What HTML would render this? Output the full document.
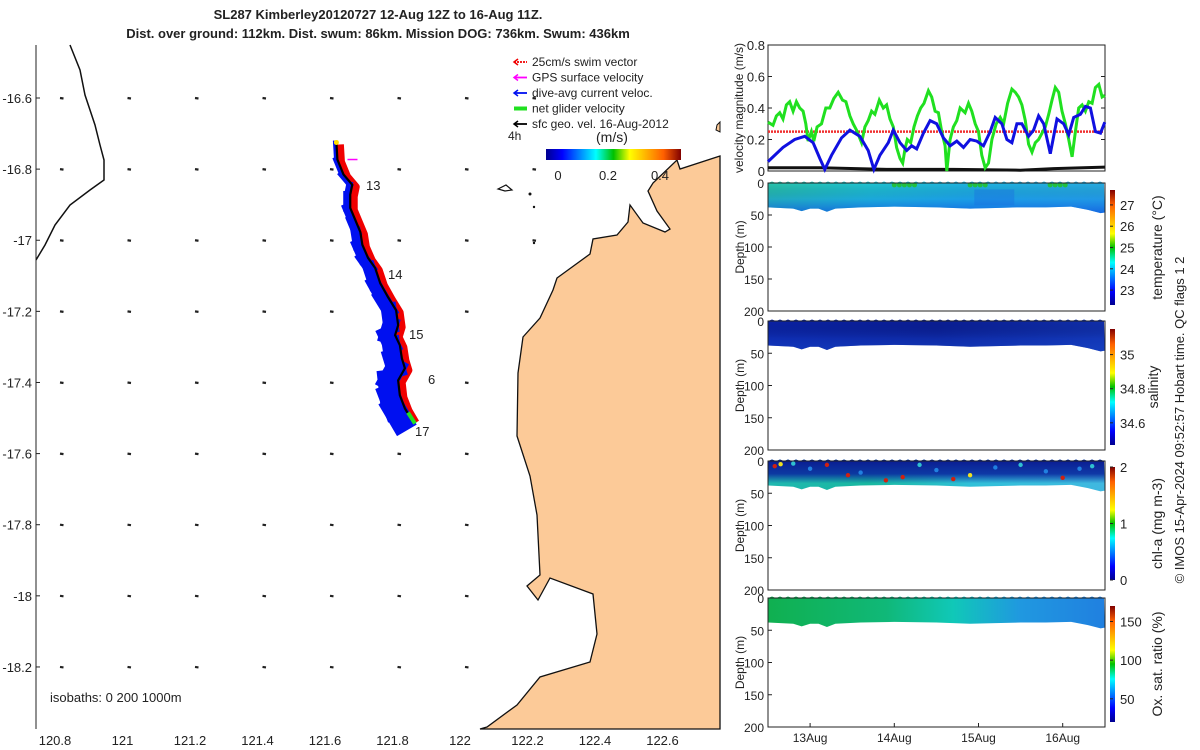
<!DOCTYPE html>
<html><head><meta charset="utf-8"><style>
html,body{margin:0;padding:0;background:#fff;}
svg{display:block;font-family:"Liberation Sans",sans-serif;}
text{fill:#222;}
</style></head><body>
<svg id="s" width="1200" height="750" viewBox="0 0 1200 750" xmlns="http://www.w3.org/2000/svg">
<defs>
 <linearGradient id="jet" x1="0" x2="1" y1="0" y2="0">
  <stop offset="0" stop-color="#00008f"/><stop offset="0.12" stop-color="#0000ff"/><stop offset="0.37" stop-color="#00ffff"/><stop offset="0.5" stop-color="#00c000"/><stop offset="0.62" stop-color="#ffff00"/><stop offset="0.87" stop-color="#ff6000"/><stop offset="1" stop-color="#800000"/>
 </linearGradient>
 <linearGradient id="jetv" x1="0" x2="0" y1="1" y2="0">
  <stop offset="0" stop-color="#00008f"/><stop offset="0.12" stop-color="#0000ff"/><stop offset="0.37" stop-color="#00ffff"/><stop offset="0.5" stop-color="#00c000"/><stop offset="0.62" stop-color="#ffff00"/><stop offset="0.87" stop-color="#ff6000"/><stop offset="1" stop-color="#800000"/>
 </linearGradient>
 <linearGradient id="gT" x1="0" x2="1"><stop offset="0" stop-color="#28c8b0"/><stop offset="0.3" stop-color="#20c8d8"/><stop offset="0.6" stop-color="#20b8e8"/><stop offset="1" stop-color="#28b0e8"/></linearGradient>
 <linearGradient id="gS" x1="0" x2="1"><stop offset="0" stop-color="#0a22a8"/><stop offset="0.5" stop-color="#0a1e98"/><stop offset="1" stop-color="#1030b0"/></linearGradient>
 <linearGradient id="gC" x1="0" x2="1"><stop offset="0" stop-color="#20b8b0"/><stop offset="0.3" stop-color="#18b8a0"/><stop offset="0.6" stop-color="#30c0d8"/><stop offset="1" stop-color="#40b8e0"/></linearGradient>
 <linearGradient id="gO" x1="0" x2="1"><stop offset="0" stop-color="#10b050"/><stop offset="0.35" stop-color="#10b878"/><stop offset="0.55" stop-color="#10c8b8"/><stop offset="0.75" stop-color="#2098e0"/><stop offset="1" stop-color="#2080e0"/></linearGradient>
 <linearGradient id="vT" x1="0" x2="0" y1="0" y2="1"><stop offset="0" stop-color="#000" stop-opacity="0"/><stop offset="0.55" stop-color="#1060e0" stop-opacity="0.3"/><stop offset="1" stop-color="#1050e0" stop-opacity="0.75"/></linearGradient>
 <linearGradient id="vS" x1="0" x2="0" y1="0" y2="1"><stop offset="0" stop-color="#000" stop-opacity="0"/><stop offset="0.6" stop-color="#1848c8" stop-opacity="0.3"/><stop offset="1" stop-color="#1848c8" stop-opacity="0.6"/></linearGradient>
 <linearGradient id="vC" x1="0" x2="0" y1="0" y2="1"><stop offset="0" stop-color="#0a1a90" stop-opacity="1"/><stop offset="0.45" stop-color="#0a2aa0" stop-opacity="0.9"/><stop offset="0.75" stop-color="#0a2aa0" stop-opacity="0"/></linearGradient>
</defs>
<g id="root"></g>
</svg>
<script>
// ---------- velocity data ----------
const greenT=[145,160,170,180,190,200,210,220,230,240,250,258,265,275,282,292,305,318,330,342,355,368,378,390,400,410,425,435,445,455,465,478,490,500,510,520,530,540,548,555,562,572,582,592,602,612,625,635,645,655,665,675,680,690,700,710,720,735,745,755,765,775,785,795,805,815,828,840,850,862,875,885,895,905,915,925,935,945,955,965,975,985,995,1005,1015,1025,1035,1045,1055,1065,1075,1085,1095,1105,1115,1125,1135,1145,1153];
const greenV=[.31,.29,.35,.37,.33,.42,.44,.38,.44,.40,.38,.30,.19,.25,.19,.28,.30,.40,.40,.46,.50,.45,.44,.35,.30,.26,.18,.28,.32,.38,.36,.45,.40,.42,.33,.28,.15,.08,.05,.14,.20,.18,.28,.35,.40,.43,.51,.47,.38,.37,.25,.16,.00,.20,.28,.32,.40,.37,.43,.38,.30,.25,.10,.02,.05,.20,.30,.34,.30,.43,.52,.50,.47,.42,.32,.17,.12,.18,.20,.24,.28,.36,.45,.53,.50,.38,.30,.20,.09,.25,.40,.42,.38,.44,.43,.53,.55,.47,.48];
const blueT=[145,190,225,255,280,300,315,335,365,390,420,445,462,480,505,520,540,560,575,590,610,630,650,670,690,710,730,750,770,790,810,825,845,860,875,890,905,925,940,955,970,990,1010,1030,1045,1060,1080,1095,1110,1125,1140,1153];
const blueV=[.06,.15,.20,.22,.18,.08,.01,.10,.21,.26,.22,.13,.01,.10,.18,.26,.18,.13,.16,.14,.24,.32,.30,.21,.16,.19,.15,.20,.19,.16,.25,.34,.30,.20,.18,.30,.30,.22,.26,.35,.30,.11,.33,.30,.23,.34,.36,.41,.40,.25,.24,.31];
const blackT=[145,300,500,700,900,1000,1153];
const blackV=[.02,.02,.01,.01,.005,.015,.025];
const swimV=0.25;
const velTicks=[0,0.2,0.4,0.6,0.8];
const dayTicks=[13,14,15,16];
const dayLabels=["13Aug","14Aug","15Aug","16Aug"];
const lonTicks=[120.8,121,121.2,121.4,121.6,121.8,122,122.2,122.4,122.6];
const latTicks=[-16.6,-16.8,-17,-17.2,-17.4,-17.6,-17.8,-18,-18.2];
const bandT=[12.5,12.8,12.9,13.0,13.1,13.2,13.3,13.6,14.0,14.5,14.9,15.2,15.5,15.8,16.1,16.3,16.45,16.5];
const bandD=[38,40,44,40,40,45,40,38,37,38,40,39,38,38,37,42,47,46];
const cbars=[
 {y0:190,y1:305,ticks:[23,24,25,26,27],v0:22.3,v1:27.7,label:"temperature (°C)"},
 {y0:329,y1:445,ticks:[34.6,34.8,35],v0:34.47,v1:35.15,label:"salinity"},
 {y0:467,y1:580,ticks:[0,1,2],v0:0,v1:2,label:"chl-a (mg m-3)"},
 {y0:606,y1:722,ticks:[50,100,150],v0:20,v1:170,label:"Ox. sat. ratio (%)"}];
const panels=[{y0:183,y1:311,fill:"gT",ov:"vT"},{y0:321,y1:450,fill:"gS",ov:"vS"},{y0:461,y1:590,fill:"gC",ov:"vC"},{y0:598,y1:727,fill:"gO",ov:null}];
const chlDotT=[12.58,12.65,12.8,13.0,13.2,13.45,13.6,13.9,14.1,14.3,14.5,14.7,14.9,15.2,15.5,15.8,16.0,16.2,16.35];
const chlDotD=[8,5,4,12,6,22,18,30,25,6,14,28,22,10,6,16,26,12,8];
const chlDotV=[1.8,1.6,1.2,0.9,1.9,1.85,0.7,2,1.9,1.1,0.6,1.95,1.4,0.8,1.0,0.7,1.9,0.6,1.0];
const trackX=[121.613,121.616,121.634,121.660,121.654,121.654,121.669,121.684,121.690,121.707,121.728,121.743,121.766,121.790,121.796,121.787,121.801,121.807,121.816,121.796,121.801,121.816,121.837];
const trackY=[-16.725,-16.773,-16.815,-16.844,-16.872,-16.909,-16.943,-16.977,-17.013,-17.050,-17.078,-17.121,-17.160,-17.197,-17.239,-17.267,-17.295,-17.332,-17.360,-17.394,-17.436,-17.473,-17.507];

const NS="http://www.w3.org/2000/svg";
const root=document.getElementById('root');
function el(tag,attrs,parent,txt){const e=document.createElementNS(NS,tag);for(const k in attrs)e.setAttribute(k,attrs[k]);if(txt!==undefined)e.textContent=txt;(parent||root).appendChild(e);return e;}
const mx=lon=>62+(lon-120.8)*337.5;
const my=lat=>98+(-16.6-lat)*355.6;
const vx=d=>768+(d-12.5)*84.2;
const tz=zx=>12.5+(zx-145)/252;
const vy=v=>171-v*157.5;

let t=el('text',{x:378,y:19,'text-anchor':'middle','font-size':13,'font-weight':'bold'},root,"SL287 Kimberley20120727 12-Aug 12Z to 16-Aug 11Z.");

t=el('text',{x:378,y:38,'text-anchor':'middle','font-size':13,'font-weight':'bold'},root,"Dist. over ground: 112km. Dist. swum: 86km. Mission DOG: 736km. Swum: 436km");


// ---------- map ----------
const map=el('g',{});

const land=el('path',{d:"M720,156 L680,169 L677,160 L653,183 L648,191 L657,211 L670,229 L665,232 L643,223 L630,205 L628,222 L617,235 L593,239 L590,254 L557,278 L553,290 L540,318 L523,337 L518,373 L517,436 L530,476 L537,515 L540,575 L527,586 L538,600 L550,578 L593,594 L597,634 L590,662 L540,677 L517,705 L487,727 L480,729 L720,729 Z",fill:"#fcca98",stroke:"#111","stroke-width":1.3},map);

el('path',{d:"M717,125 L720,122 L720,132 L716,130 Z",fill:"#fcca98",stroke:"#111"},map);
el('path',{d:"M498,189 L506,185 L512,190 L505,191 Z",fill:"none",stroke:"#111","stroke-width":1.2},map);
el('circle',{cx:530,cy:194,r:1.5,fill:"#111"},map);el('circle',{cx:534,cy:207,r:1.2,fill:"#111"},map);el('circle',{cx:534,cy:243,r:1.2,fill:"#111"},map);
el('path',{d:"M70,45 L80,70 L85,95 L95,125 L100,145 L104,160 L104,180 L90,190 L70,205 L55,225 L45,245 L36,260",fill:"none",stroke:"#111","stroke-width":1.5},map);
for(const lo of lonTicks.slice(0,8)){for(const la of latTicks){const x=mx(lo),y=my(la);if(x>500&&y>270)continue;const d=el('path',{d:`M${x-2},${y} L${x+1.5},${y+0.5}`,stroke:"#222","stroke-width":2.2},map);}}
const pts=trackX.map((lo,i)=>[mx(lo),my(trackY[i])]);
const ptsStr=(dx)=>pts.map((p,i)=>`${p[0]+dx},${p[1]+2}`).join(' ');
const red=el('polyline',{points:ptsStr(4),fill:"none",stroke:"#f00000","stroke-width":7,'stroke-linejoin':'round'},map);

const bl=el('g',{},map);

pts.forEach((p,i)=>{if(i==0)return;const q=pts[i-1];const w=3+i*0.9;const o=-1-i*0.45;el('line',{x1:q[0]+o,y1:q[1],x2:p[0]+o,y2:p[1],stroke:"#0010f0","stroke-width":w,'stroke-linecap':'square'},bl);});
const bk=el('polyline',{points:pts.map(p=>p.join(',')).join(' '),fill:"none",stroke:"#000","stroke-width":2.2},map);

el('circle',{cx:pts[0][0],cy:pts[0][1],r:2.5,fill:"#ffe000"},map);
el('line',{x1:pts[22][0]-4,y1:pts[22][1]-8,x2:pts[22][0]+3,y2:pts[22][1]+3,stroke:"#20e020","stroke-width":4},map);
el('line',{x1:pts[2][0]+4,y1:pts[1][1],x2:pts[2][0]+14,y2:pts[1][1],stroke:"#ff00ff","stroke-width":1.5},map);
[["13",366,190],["14",388,279],["15",409,339],["6",428,384],["17",415,436]].forEach(a=>{const d=el('text',{x:a[1],y:a[2],'font-size':13},map,a[0]);});
const leg=[["25cm/s swim vector","#f00000"],["GPS surface velocity","#ff00ff"],["dive-avg current veloc.","#0010f0"],["net glider velocity","#20e020"],["sfc geo. vel. 16-Aug-2012","#000"]];
leg.forEach((l,i)=>{const g=el('g',{},map);const y=62+i*15.5;
 el('line',{x1:514,y1:y,x2:527,y2:y,stroke:l[1],'stroke-width':i==3?4:1.8,'stroke-dasharray':i==0?'2,1':''},g);
 if(i!=3)el('path',{d:`M518,${y-3} L514,${y} L518,${y+3}`,fill:'none',stroke:l[1],'stroke-width':1.5},g);
 el('text',{x:532,y:y+4,'font-size':12},g,l[0]);});
el('text',{x:508,y:140,'font-size':12},map,"4h");
el('text',{x:596,y:142,'font-size':14},map,"(m/s)");
const cb=el('rect',{x:546,y:149,width:135,height:11,fill:"url(#jet)"},map);

[[0,558],[0.2,608],[0.4,660]].forEach(a=>{el('text',{x:a[1],y:180,'text-anchor':'middle','font-size':13},map,String(a[0]));});
el('text',{x:50,y:702,'font-size':13},map,"isobaths: 0   200   1000m");
lonTicks.forEach(lo=>{const d=el('text',{x:mx(lo)-7,y:745,'text-anchor':'middle','font-size':13},map,String(lo));});
latTicks.forEach(la=>{const d=el('text',{x:32,y:my(la)+5,'text-anchor':'end','font-size':13},map,String(la));el('line',{x1:36,y1:my(la),x2:40,y2:my(la),stroke:'#222'},map);});
el('line',{x1:36,y1:45,x2:36,y2:729,stroke:'#222'},map);

// ---------- velocity panel ----------
const vp=el('g',{});
el('rect',{x:768,y:45,width:337,height:126,fill:'#fff',stroke:'#222'},vp);
velTicks.forEach(v=>{el('text',{x:765,y:vy(v)+5,'text-anchor':'end','font-size':13},vp,String(v));el('line',{x1:768,y1:vy(v),x2:772,y2:vy(v),stroke:'#222'},vp);el('line',{x1:1101,y1:vy(v),x2:1105,y2:vy(v),stroke:'#222'},vp);});
t=el('text',{transform:'translate(743,108) rotate(-90)','text-anchor':'middle','font-size':12},vp,"velocity magnitude (m/s)");

let l=el('line',{x1:768,y1:vy(swimV),x2:1104,y2:vy(swimV),stroke:'#f03030','stroke-width':2.5,'stroke-dasharray':'2,1'},vp);

const poly=(T,V)=>T.map((z,i)=>`${vx(tz(z)).toFixed(1)},${vy(V[i]).toFixed(1)}`).join(' ');
l=el('polyline',{points:poly(blackT,blackV),fill:'none',stroke:'#111','stroke-width':3},vp);

l=el('polyline',{points:poly(greenT,greenV),fill:'none',stroke:'#20e020','stroke-width':3},vp);

l=el('polyline',{points:poly(blueT,blueV),fill:'none',stroke:'#1010e0','stroke-width':3},vp);


// ---------- depth sections ----------
const names=['temperature-section','salinity-section','chla-section','oxygen-section'];
panels.forEach((p,k)=>{
 const g=el('g',{});
 const dy=d=>p.y0+d*(p.y1-p.y0)/200;
 let d=`M${vx(12.5)},${dy(0)} `;
 for(let x=vx(12.5);x<=vx(16.5);x+=4){d+=`L${x},${dy(0)-(((x/4)|0)%2?1.5:0)} `;}
 bandT.slice().reverse().forEach((tt,i)=>{const j=bandT.length-1-i;d+=`L${vx(tt)},${dy(bandD[j])} `;});
 d+='Z';
 el('path',{d:d,fill:`url(#${p.fill})`},g);
 if(p.ov){el('path',{d:d,fill:`url(#${p.ov})`},g);}
 if(k==0){[[14.0,14.3],[14.9,15.1],[15.85,16.05]].forEach(r=>{for(let tt=r[0];tt<r[1];tt+=0.06)el('circle',{cx:vx(tt),cy:dy(3),r:2.5,fill:'#20c040'},g);});
  el('rect',{x:vx(14.95),y:dy(10),width:40,height:16,fill:'#1a70e0',opacity:0.45},g);}
 if(k==2){chlDotT.forEach((tt,i)=>{const c=chlDotV[i]>1.7?'#d02010':(chlDotV[i]>1.3?'#f0e020':(chlDotV[i]>0.9?'#30c0d0':'#2080e0'));el('circle',{cx:vx(tt),cy:dy(chlDotD[i]),r:2.2,fill:c},g);});}
 el('rect',{x:768,y:p.y0,width:337,height:p.y1-p.y0,fill:'none',stroke:'#222'},g);
 [0,50,100,150,200].forEach(v=>{el('text',{x:764,y:dy(v)+5,'text-anchor':'end','font-size':12},g,String(v));el('line',{x1:768,y1:dy(v),x2:772,y2:dy(v),stroke:'#222'},g);});
 t=el('text',{transform:`translate(744,${(p.y0+p.y1)/2}) rotate(-90)`,'text-anchor':'middle','font-size':12},g,"Depth (m)");
 
 const c=cbars[k];
 const r=el('rect',{x:1110,y:c.y0,width:5,height:c.y1-c.y0,fill:'url(#jetv)'},g);
 c.ticks.forEach(v=>{const y=c.y1-(v-c.v0)/(c.v1-c.v0)*(c.y1-c.y0);el('line',{x1:1110,y1:y,x2:1113,y2:y,stroke:'#222'},g);el('text',{x:1120,y:y+5,'font-size':13},g,String(v));});
 t=el('text',{transform:`translate(${k==1?1158:1162},${(c.y0+c.y1)/2}) rotate(-90)`,'text-anchor':'middle','font-size':14},g,c.label);
 
});
dayTicks.forEach((dd,i)=>{el('line',{x1:vx(dd),y1:727,x2:vx(dd),y2:723,stroke:'#222'});const d=el('text',{x:vx(dd),y:742,'text-anchor':'middle','font-size':12},root,dayLabels[i]);});
t=el('text',{transform:'translate(1184,420) rotate(-90)','text-anchor':'middle','font-size':13},root,"© IMOS 15-Apr-2024 09:52:57 Hobart time. QC flags 1  2");

</script>
</body></html>
